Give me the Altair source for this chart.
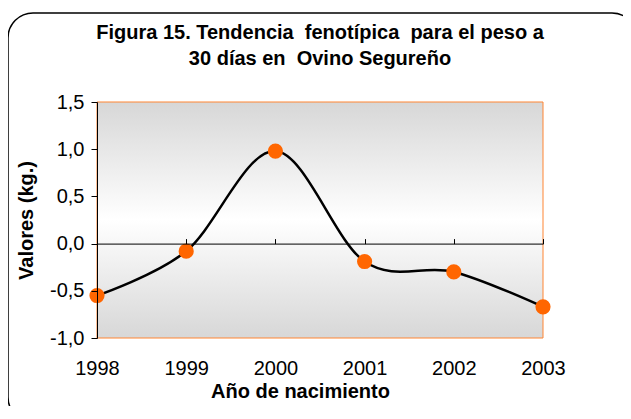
import altair as alt
import pandas as pd

# ---- data ----
years = [1998, 1999, 2000, 2001, 2002, 2003]
values = [-0.55, -0.08, 0.98, -0.19, -0.30, -0.67]
y_ticks = [-1.0, -0.5, 0.0, 0.5, 1.0, 1.5]
title_lines = ["Figura 15. Tendencia  fenotípica  para el peso a",
               "30 días en  Ovino Segureño"]
x_title = "Año de nacimiento"
y_title = "Valores (kg.)"

df = pd.DataFrame({"year": years, "value": values})

W, H = 446, 236
FONT = "Liberation Sans"
FS = 20
ORANGE = "#ff6600"
BORDER = "#ff8533"

x_scale = alt.Scale(domain=[years[0], years[-1]], nice=False, zero=False)
y_scale = alt.Scale(domain=[y_ticks[0], y_ticks[-1]], nice=False, zero=False)
zero_frac = (0 - y_ticks[0]) / (y_ticks[-1] - y_ticks[0])

label_expr = "replace((datum.value < 0 ? '-' : '') + format(abs(datum.value), '.1f'), '.', ',')"

y_axis = alt.Axis(values=y_ticks, labelExpr=label_expr, grid=False,
                  domain=True, domainColor="black", domainWidth=1,
                  ticks=True, tickColor="black", tickSize=6, labelPadding=7,
                  labelFont=FONT, labelFontSize=FS, labelColor="black",
                  title=y_title, titleFont=FONT, titleFontSize=FS,
                  titleFontWeight="bold", titleColor="black",
                  titleX=-71, titleY=H / 2, titleBaseline="middle",
                  titleAlign="center", titleAngle=270, zindex=1)

x_axis_labels = alt.Axis(values=years, format="d", grid=False, domain=False,
                         ticks=False, labelPadding=20, labelFlush=False,
                         labelFont=FONT, labelFontSize=FS, labelColor="black",
                         title=x_title, titleFont=FONT, titleFontSize=FS,
                         titleFontWeight="bold", titleColor="black",
                         titleX=203, titleY=59, titleBaseline="alphabetic",
                         titleAlign="center")

x_axis_zero = alt.Axis(values=years, labels=False, grid=False, domain=True,
                       domainColor="black", domainWidth=1, ticks=True,
                       tickColor="black", tickSize=5, title=None,
                       offset=-H * (1 - zero_frac), zindex=1)

blank = alt.Data(values=[{}])

frame = alt.Chart(blank).mark_rect(
    fill="white", fillOpacity=0, stroke="black", strokeWidth=1.5, cornerRadius=25
).encode(x=alt.value(-89), x2=alt.value(540), y=alt.value(-89), y2=alt.value(320))

bg = alt.Chart(blank).mark_rect(
    fill=alt.Gradient(gradient="linear", x1=0, x2=0, y1=0, y2=1, stops=[
        alt.GradientStop(color="#d7d7d7", offset=0),
        alt.GradientStop(color="#ffffff", offset=0.5),
        alt.GradientStop(color="#d7d7d7", offset=1)]),
    stroke=BORDER, strokeWidth=1
).encode(x=alt.value(0), x2=alt.value("width"), y=alt.value(0), y2=alt.value("height"))


def keep_spaces(s):
    # SVG collapses runs of spaces; keep the reference's double spaces
    return s.replace("  ", " \u00a0")


title1 = alt.Chart(blank).mark_text(
    text=keep_spaces(title_lines[0]), font=FONT, fontSize=FS, fontWeight="bold",
    color="black", align="center", baseline="alphabetic"
).encode(x=alt.value(W / 2), y=alt.value(-63))

title2 = alt.Chart(blank).mark_text(
    text=keep_spaces(title_lines[1]), font=FONT, fontSize=FS, fontWeight="bold",
    color="black", align="center", baseline="alphabetic"
).encode(x=alt.value(W / 2), y=alt.value(-37))

line = alt.Chart(df).mark_line(color="black", strokeWidth=2.5, interpolate="cardinal").encode(
    x=alt.X("year:Q", scale=x_scale, axis=x_axis_labels),
    y=alt.Y("value:Q", scale=y_scale, axis=y_axis),
)

pts = alt.Chart(df).mark_circle(color=ORANGE, size=230, opacity=1).encode(
    x=alt.X("year:Q", scale=x_scale, axis=x_axis_zero),
    y=alt.Y("value:Q", scale=y_scale, axis=y_axis),
)

chart = alt.layer(frame, bg, title1, title2, line, pts).resolve_axis(x="independent").properties(
    width=W, height=H,
    autosize=alt.AutoSizeParams(type="none"),
    padding={"left": 89, "top": 94, "right": 80, "bottom": 68},
    background="white",
).configure_view(stroke=None)

chart.save("out.html", embed_options={"renderer": "svg", "actions": False})
